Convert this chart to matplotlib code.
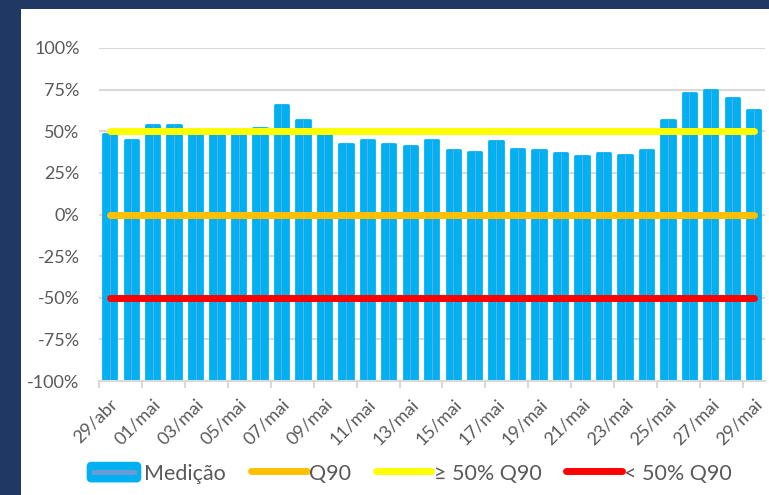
import numpy as np
import matplotlib.pyplot as plt
from matplotlib.patches import FancyBboxPatch
from matplotlib.lines import Line2D

# dias de 29/abr a 29/mai
dias = ["29/abr", "30/abr"] + ["%02d/mai" % d for d in range(1, 30)]
medicao = [48.6, 44.6, 53.6, 53.6, 50.5, 50.5, 50.0, 52.2, 65.7, 56.6,
           49.5, 42.2, 44.6, 42.2, 41.0, 45.0, 39.0, 37.5, 44.2, 39.6,
           38.6, 36.9, 35.3, 36.9, 35.7, 39.0, 56.6, 73.1, 74.7, 70.1, 63.0]
q90 = 0
acima = 50
abaixo = -50
base = -100

azul = '#00B0F0'
cinza_txt = '#595959'
grade = '#D9D9D9'

plt.rcParams['font.family'] = ['Lato', 'DejaVu Sans']


class BarraLegenda:
    # retangulo azul com a linha fina no meio, como na legenda do Excel
    def legend_artist(self, legend, orig_handle, fontsize, handlebox):
        x0, y0 = -handlebox.xdescent, -handlebox.ydescent
        w, h = handlebox.width, handlebox.height
        r = FancyBboxPatch((x0 + 1, y0), w - 2, h, boxstyle="round,pad=0,rounding_size=3",
                           facecolor=azul, edgecolor=azul, transform=handlebox.get_transform())
        ln = Line2D([x0 + 0.15 * w, x0 + 0.85 * w], [y0 + h / 2, y0 + h / 2], color='#6E9BD3',
                    lw=3.5, transform=handlebox.get_transform())
        handlebox.add_artist(r)
        handlebox.add_artist(ln)
        return r


fig = plt.figure(figsize=(7.69, 4.95), dpi=100)
fig.patch.set_facecolor('#203864')
# fundo branco do gráfico
fig.patches.append(plt.Rectangle((21 / 769, 0), 1, 1 - 9 / 495, transform=fig.transFigure,
                                 facecolor='white', edgecolor='none', zorder=-5))

ax = fig.add_axes([99 / 769, 1 - 381 / 495, (764.5 - 99) / 769, (381 - 48) / 495])
ax.set_facecolor('white')

x = np.arange(len(dias))
alturas = [v - base for v in medicao]
ax.bar(x, alturas, bottom=base, width=0.62, color=azul, edgecolor=azul,
       linewidth=2, joinstyle='round', zorder=2)
ax.vlines(x, base, medicao, color='#7DA7D9', linewidth=0.6, zorder=3)

ax.plot([x[0], x[-1]], [q90, q90], color='#FFC000', lw=5, solid_capstyle='round', zorder=4)
ax.plot([x[0], x[-1]], [acima, acima], color='#FFFF00', lw=5, solid_capstyle='round', zorder=4)
ax.plot([x[0], x[-1]], [abaixo, abaixo], color='#FF0000', lw=5, solid_capstyle='round', zorder=4)

ax.set_xlim(-0.5, len(dias) - 0.5)
ax.set_ylim(-100, 100)
ax.set_yticks(np.arange(-100, 101, 25))
ax.set_yticklabels(["%d%%" % v for v in range(-100, 101, 25)])
ax.yaxis.grid(True, color=grade, lw=1.5, zorder=0)
ax.set_axisbelow(True)

ax.set_xticks(x[::2])
ax.set_xticklabels(dias[::2], rotation=45, ha='right', va='top', rotation_mode='anchor')
ax.set_xticks(np.arange(-0.5, len(dias), 2), minor=True)
ax.tick_params(axis='x', which='major', length=0, pad=11, labelsize=13, labelcolor=cinza_txt)
ax.tick_params(axis='x', which='minor', length=5, width=1.5, color=grade)
ax.tick_params(axis='y', length=0, pad=14, labelsize=13, labelcolor=cinza_txt)
for lado in ['top', 'right', 'left']:
    ax.spines[lado].set_visible(False)
ax.spines['bottom'].set_color(grade)
ax.spines['bottom'].set_linewidth(1.5)
ax.spines['bottom'].set_zorder(5)

h_med = BarraLegenda()
h_q90 = Line2D([], [], color='#FFC000', lw=5, solid_capstyle='round')
h_ac = Line2D([], [], color='#FFFF00', lw=5, solid_capstyle='round')
h_ab = Line2D([], [], color='#FF0000', lw=5, solid_capstyle='round')
leg = fig.legend([h_med, h_q90, h_ac, h_ab], ["Medição", "Q90", "≥ 50% Q90", "< 50% Q90"],
                 handler_map={BarraLegenda: h_med},
                 loc='center', bbox_to_anchor=(409 / 769, 1 - 473 / 495), ncol=4,
                 frameon=False, fontsize=15.5, handlelength=2.6, handleheight=1.0,
                 handletextpad=0.1, columnspacing=1.15, labelcolor=cinza_txt)

fig.savefig('out.png', dpi=100, facecolor=fig.get_facecolor())
